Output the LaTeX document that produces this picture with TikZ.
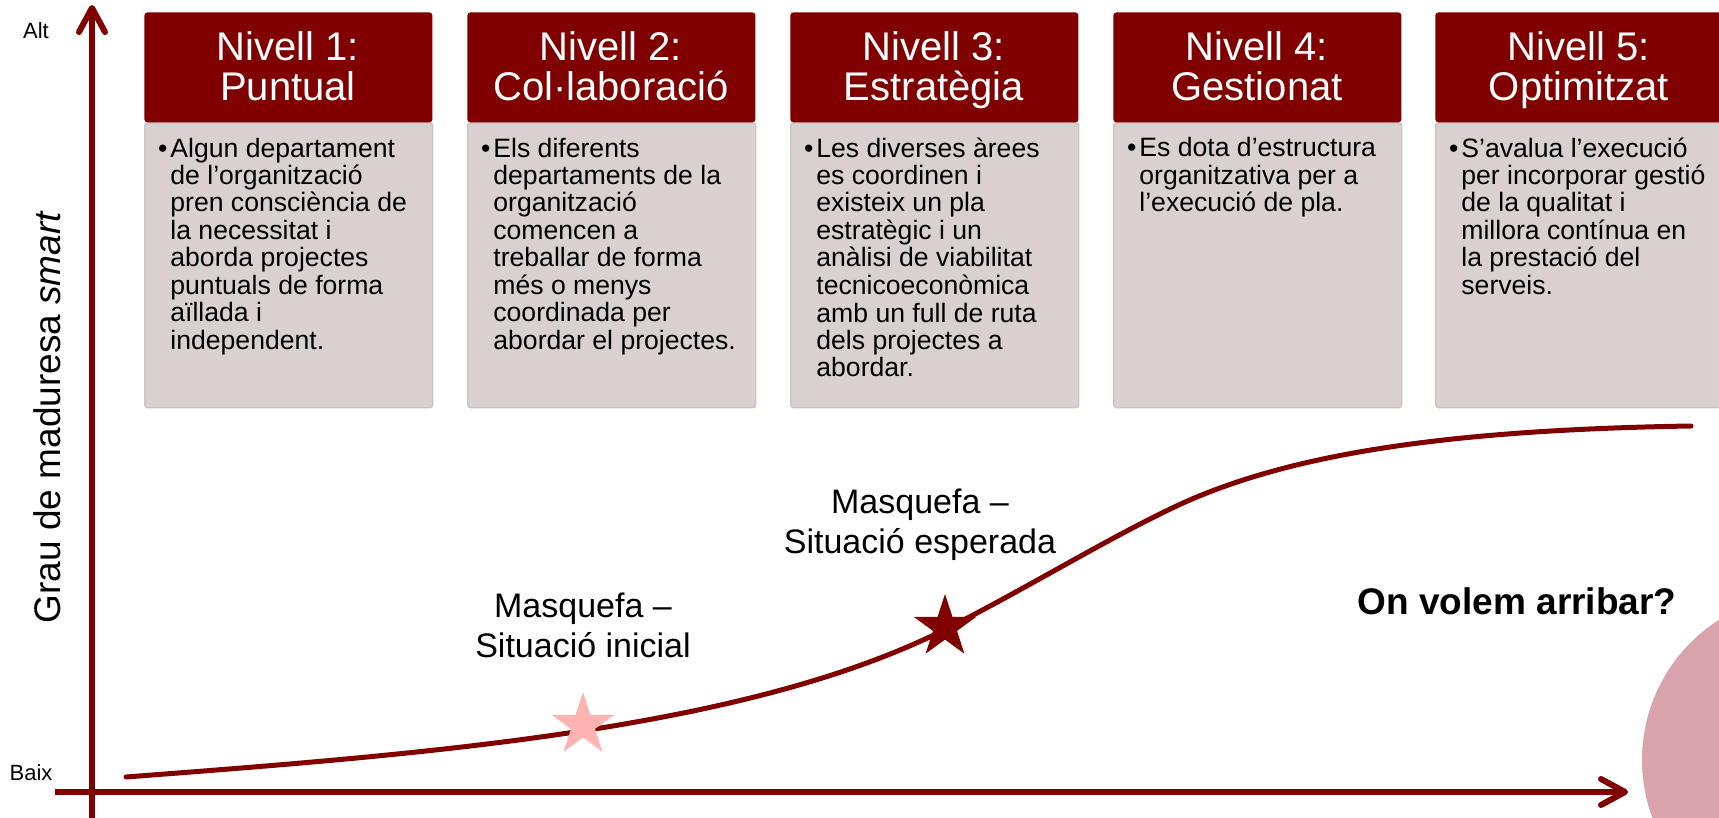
\documentclass[tikz,border=0pt]{standalone}
\usepackage{fontspec}
\setmainfont{Liberation Sans}
\usetikzlibrary{arrows.meta,shapes.geometric}
\definecolor{dred}{HTML}{800000}
\definecolor{bodyfill}{HTML}{D9D0D0}
\definecolor{bodyline}{HTML}{CDC1C1}
\definecolor{pinkstar}{HTML}{FFB3B3}
\definecolor{goalpink}{HTML}{D9A3AC}
\begin{document}
\begin{tikzpicture}[x=0.5pt,y=-0.5pt,
  hdr/.style={fill=dred, rounded corners=1.5pt, minimum width=144pt, minimum height=55pt, inner sep=0pt, anchor=north west},
  bdy/.style={fill=bodyfill, draw=bodyline, line width=0.7pt, rounded corners=1.5pt, minimum width=144pt, minimum height=142.5pt, inner sep=0pt, anchor=north west},
  htext/.style={text=white, align=center, inner sep=0pt, anchor=base, font=\fontsize{20}{20}\selectfont},
  btext/.style={text=black, align=left, inner sep=0pt, anchor=base west, font=\fontsize{13.3}{13.75}\selectfont},
  lbl/.style={text=black, align=center, inner sep=0pt, anchor=base, font=\fontsize{17}{20}\selectfont},
  axisline/.style={dred, line width=3pt, -{Straight Barb[length=12pt,width=13pt,line cap=round,line join=round]}},
  starshape/.style={star, star points=5, star point ratio=2.618, minimum size=33pt, inner sep=0pt, draw=none}
]
\useasboundingbox (0,0) rectangle (1719,818);
\clip (0,0) rectangle (1719,818);

% boxes
\foreach \i/\xx in {1/144,2/467,3/790,4/1113,5/1435}{
  \node[bdy] (b\i) at (\xx,122) {};
  \node[hdr] (h\i) at (\xx,12) {};
}

% header texts (anchor = baseline of last line)
\node[htext] (ht1) at (288,101) {Nivell 1:\\Puntual};
\node[htext] (ht2) at (611,101) {Nivell 2:\\Col·laboració};
\node[htext] (ht3) at (934,101) {Nivell 3:\\Estratègia};
\node[htext] (ht4) at (1257,101) {Nivell 4:\\Gestionat};
\node[htext] (ht5) at (1579,101) {Nivell 5:\\Optimitzat};

\newcommand{\bul}{\llap{\textbullet\hspace{1.5pt}}}
% body texts (anchor = baseline of last line; first baseline at 157, step 27.5)
\node[btext] (t1) at (170,349.5) {\bul Algun departament\\de l’organització\\pren consciència de\\la necessitat i\\aborda projectes\\puntuals de forma\\aïllada i\\independent.};
\node[btext] (t2) at (493,349.5) {\bul Els diferents\\departaments de la\\organització\\comencen a\\treballar de forma\\més o menys\\coordinada per\\abordar el projectes.};
\node[btext] (t3) at (816,377) {\bul Les diverses àrees\\es coordinen i\\existeix un pla\\estratègic i un\\anàlisi de viabilitat\\tecnicoeconòmica\\amb un full de ruta\\dels projectes a\\abordar.};
\node[btext] (t4) at (1139,212) {\bul Es dota d’estructura\\organitzativa per a\\l’execució de pla.};
\node[btext] (t5) at (1461,294.5) {\bul S’avalua l’execució\\per incorporar gestió\\de la qualitat i\\millora contínua en\\la prestació del\\serveis.};

% goal circle
\node[circle, fill=goalpink, minimum size=166pt, inner sep=0pt] (goal) at (1808,760) {};

% axes
\coordinate (yb) at (92,830);
\coordinate (yt) at (92,5);
\coordinate (xl) at (55,792);
\coordinate (xr) at (1628,792);
\draw[axisline] (yb) -- (yt);
\draw[axisline] (xl) -- (xr);

% axis labels
\node[inner sep=0pt, anchor=base, font=\fontsize{11}{13}\selectfont] (alt) at (36,39) {Alt};
\node[inner sep=0pt, anchor=base, font=\fontsize{11}{13}\selectfont] (baix) at (31,780) {Baix};
\node[inner sep=0pt, anchor=base, rotate=90, font=\fontsize{18.5}{22}\selectfont] (ylab) at (60,417) {Grau de maduresa \textit{smart}};

% curve
\coordinate (c0) at (126,777);
\coordinate (c1) at (944,630);
\coordinate (c2) at (1183,503);
\coordinate (c3) at (1691,426);
\draw[dred, line width=2.5pt, line cap=round]
  (c0) .. controls (426,754) and (744,730) .. (c1)
       .. controls (1024,590) and (1113,535) .. (c2)
       .. controls (1290,455) and (1441,430) .. (c3);

% stars
\node[starshape, fill=pinkstar] (s1) at (583,725) {};
\node[starshape, fill=dred] (s2) at (945,627) {};

% labels (anchor = baseline of last line)
\node[lbl] (l1) at (583,657) {Masquefa –\\Situació inicial};
\node[lbl] (l2) at (920,553) {Masquefa –\\Situació esperada};
\node[inner sep=0pt, anchor=base, font=\fontsize{18.5}{22}\selectfont\bfseries] (goaltxt) at (1517,614) {On volem arribar?};
\end{tikzpicture}
\end{document}
